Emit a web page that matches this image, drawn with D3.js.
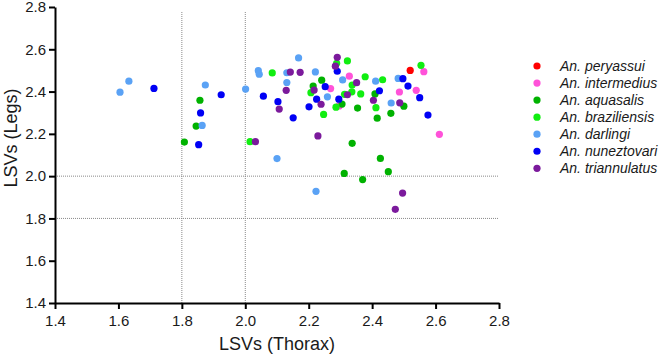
<!DOCTYPE html>
<html>
<head>
<meta charset="utf-8">
<script src="https://cdn.jsdelivr.net/npm/d3@7"></script>
<style>
  body { margin: 0; background: #fff; }
  text { font-family: "Liberation Sans", Arial, sans-serif; fill: #1a1a1a; }
</style>
</head>
<body>
<div id="chart"></div>
<script>
// species names and colours (legend order)
var species = ["An. peryassui", "An. intermedius", "An. aquasalis", "An. braziliensis",
               "An. darlingi", "An. nuneztovari", "An. triannulatus"];
var colors = ["#ff0000", "#ff52d9", "#00b200", "#11ee11", "#5aa2f5", "#0000f5", "#7b1a9c"];

// [LSVs thorax, LSVs legs]
var peryassui = [[2.52, 2.50]];
var intermedius = [[2.328, 2.473], [2.269, 2.414], [2.296, 2.332], [2.486, 2.398],
                   [2.539, 2.406], [2.563, 2.494], [2.612, 2.198]];
var aquasalis = [[1.808, 2.161], [1.857, 2.359], [1.845, 2.237], [2.241, 2.454],
                 [2.214, 2.426], [2.305, 2.341], [2.354, 2.322], [2.409, 2.389],
                 [2.500, 2.331], [2.459, 2.297], [2.416, 2.274], [2.337, 2.155],
                 [2.426, 2.084], [2.312, 2.013], [2.370, 1.984], [2.451, 2.021]];
var braziliensis = [[2.015, 2.163], [2.085, 2.488], [2.207, 2.395], [2.247, 2.292],
                    [2.288, 2.534], [2.322, 2.545], [2.378, 2.470], [2.337, 2.431],
                    [2.336, 2.399], [2.364, 2.389], [2.313, 2.387], [2.286, 2.326],
                    [2.433, 2.456], [2.412, 2.324], [2.554, 2.524]];
var darlingi = [[1.605, 2.397], [1.633, 2.449], [1.874, 2.431], [1.864, 2.240],
                [2.001, 2.412], [2.041, 2.499], [2.044, 2.482], [2.100, 2.083],
                [2.131, 2.489], [2.131, 2.443], [2.168, 2.559], [2.221, 2.493],
                [2.259, 2.375], [2.307, 2.455], [2.411, 2.449], [2.482, 2.462],
                [2.460, 2.346], [2.223, 1.928]];
var nuneztovari = [[1.712, 2.415], [1.859, 2.299], [1.853, 2.149], [1.924, 2.385],
                   [2.057, 2.378], [2.103, 2.352], [2.151, 2.276], [2.201, 2.328],
                   [2.225, 2.364], [2.252, 2.423], [2.290, 2.496], [2.295, 2.364],
                   [2.423, 2.404], [2.497, 2.461], [2.513, 2.426], [2.550, 2.371],
                   [2.576, 2.289]];
var triannulatus = [[2.032, 2.163], [2.142, 2.492], [2.173, 2.491], [2.129, 2.406],
                    [2.107, 2.317], [2.229, 2.190], [2.217, 2.407], [2.239, 2.340],
                    [2.290, 2.562], [2.284, 2.520], [2.322, 2.385], [2.351, 2.442],
                    [2.404, 2.359], [2.487, 2.347], [2.496, 1.920], [2.473, 1.843]];

var series = [peryassui, intermedius, aquasalis, braziliensis, darlingi, nuneztovari, triannulatus];

var tickValues = [1.4, 1.6, 1.8, 2.0, 2.2, 2.4, 2.6, 2.8];
var refX = [1.8, 2.0];   // dotted vertical lines
var refY = [2.0, 1.8];   // dotted horizontal lines

var w = 659, h = 355;
var margin = {top: 7, left: 55, right: 160, bottom: 52};

var svg = d3.select("#chart").append("svg")
            .attr("width", w)
            .attr("height", h);

var x = d3.scaleLinear().domain([1.4, 2.8]).range([margin.left, w - margin.right]);
var y = d3.scaleLinear().domain([1.4, 2.8]).range([h - margin.bottom, margin.top]);

// dotted reference lines
svg.selectAll("line.refx")
   .data(refX)
   .enter()
   .append("line")
   .attr("class", "refx")
   .attr("x1", function(d) { return x(d); })
   .attr("x2", function(d) { return x(d); })
   .attr("y1", y(1.4))
   .attr("y2", y(2.78))
   .attr("stroke", "#8a8a8a")
   .attr("stroke-width", 1)
   .attr("stroke-dasharray", "1,1");

svg.selectAll("line.refy")
   .data(refY)
   .enter()
   .append("line")
   .attr("class", "refy")
   .attr("x1", x(1.4))
   .attr("x2", x(2.8))
   .attr("y1", function(d) { return y(d); })
   .attr("y2", function(d) { return y(d); })
   .attr("stroke", "#8a8a8a")
   .attr("stroke-width", 1)
   .attr("stroke-dasharray", "1,1");

// points, one group per species
series.forEach(function(pts, i) {
    svg.append("g")
       .selectAll("circle")
       .data(pts)
       .enter()
       .append("circle")
       .attr("cx", function(d) { return x(d[0]); })
       .attr("cy", function(d) { return y(d[1]); })
       .attr("r", 3.6)
       .attr("fill", colors[i]);
});

// axes
var xAxis = svg.append("g")
   .attr("transform", "translate(0," + y(1.4) + ")")
   .call(d3.axisBottom(x).tickValues(tickValues).tickFormat(d3.format(".1f"))
           .tickSize(6).tickSizeOuter(0).tickPadding(6));

var yAxis = svg.append("g")
   .attr("transform", "translate(" + x(1.4) + ",0)")
   .call(d3.axisLeft(y).tickValues(tickValues).tickFormat(d3.format(".1f"))
           .tickSize(6).tickSizeOuter(0).tickPadding(3));

[xAxis, yAxis].forEach(function(a) {
    a.select(".domain").attr("stroke", "#000").attr("stroke-width", 2);
    a.selectAll(".tick line").attr("stroke", "#000").attr("stroke-width", 2);
    a.selectAll(".tick text").style("font-size", "15px")
     .style("font-family", "'Liberation Sans', Arial, sans-serif").attr("fill", "#222");
});

// axis titles
svg.append("text")
   .attr("x", (x(1.4) + x(2.8)) / 2)
   .attr("y", 350)
   .attr("text-anchor", "middle")
   .style("font-size", "18px")
   .text("LSVs (Thorax)");

svg.append("text")
   .attr("transform", "translate(16.5,138) rotate(-90)")
   .attr("text-anchor", "middle")
   .style("font-size", "18px")
   .text("LSVs (Legs)");

// legend
var legend = svg.append("g").selectAll("g")
   .data(species)
   .enter()
   .append("g")
   .attr("transform", function(d, i) { return "translate(537," + (66 + i * 17.05) + ")"; });

legend.append("circle")
   .attr("r", 3.6)
   .attr("fill", function(d, i) { return colors[i]; });

legend.append("text")
   .attr("x", 23)
   .attr("dy", "0.36em")
   .style("font-size", "14px")
   .style("font-style", "italic")
   .text(function(d) { return d; });
</script>
</body>
</html>
